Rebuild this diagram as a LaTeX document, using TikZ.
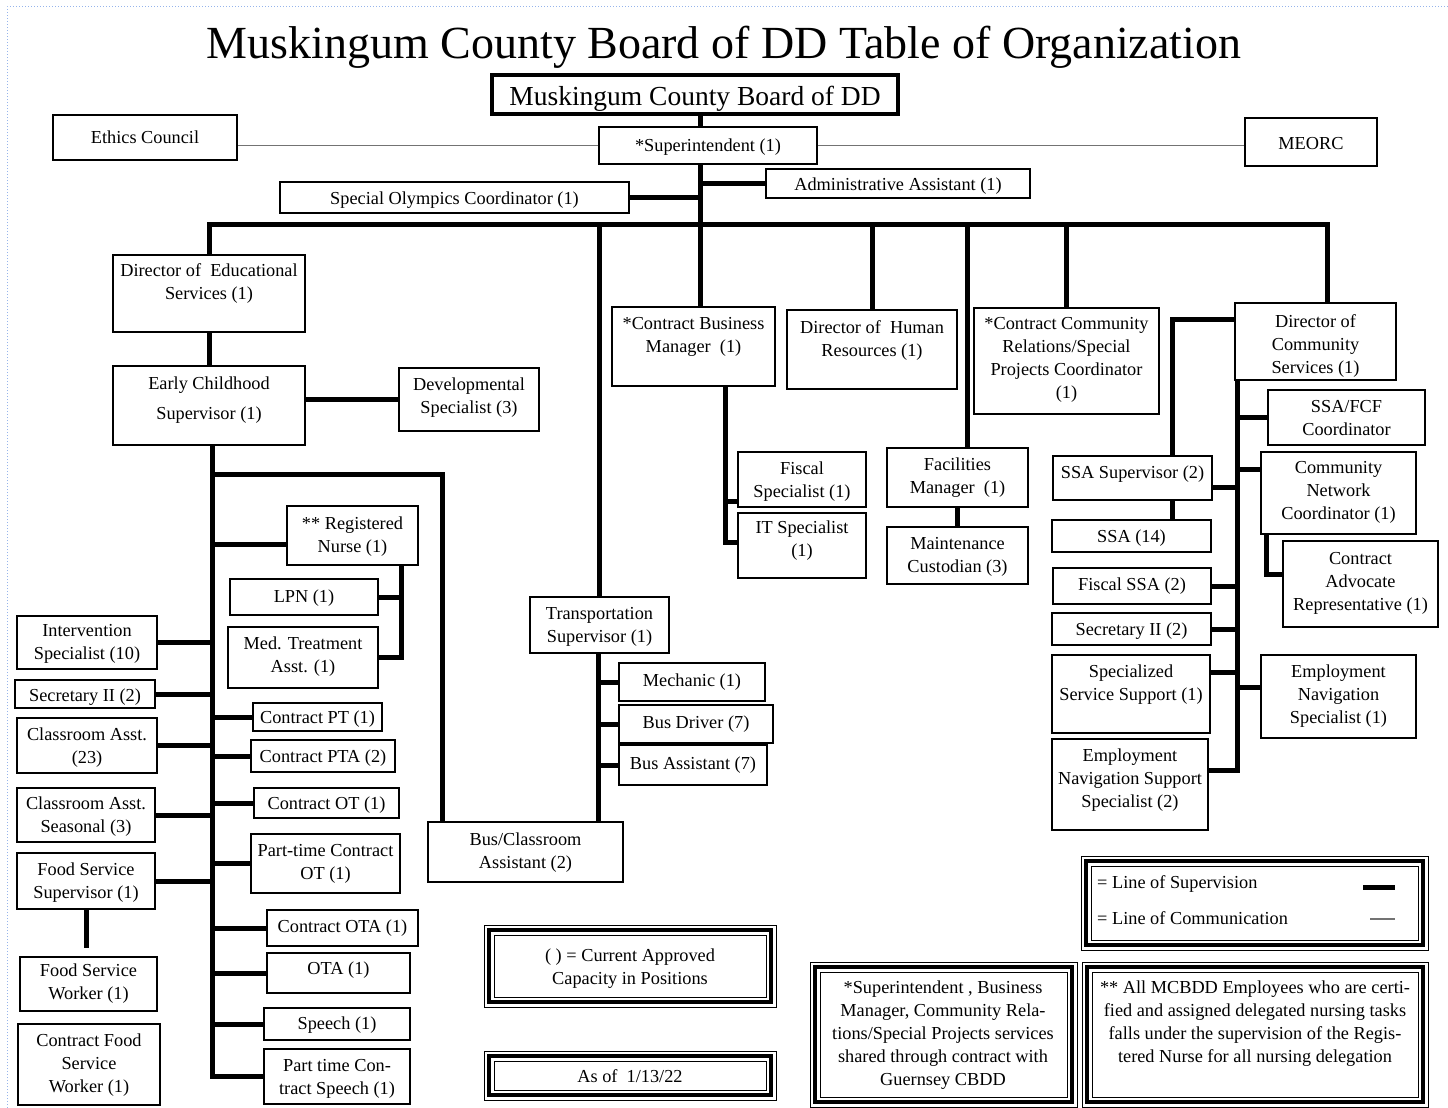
\documentclass[tikz,border=0pt]{standalone}
\usepackage{fontspec}
\setmainfont{Liberation Serif}
\usetikzlibrary{fit,calc}
\definecolor{selblue}{RGB}{150,180,235}
\tikzset{
  bxs/.style={draw, line width=1.3pt, inner sep=0pt},
  txt/.style={inner sep=0pt, align=center, font=\fontsize{18.3}{23}\selectfont},
  svl/.style={line width=5pt},
  cml/.style={line width=1.6pt, draw=black!55},
}
\newcommand\obox[7]{%
  \node[bxs, fit={(#2,#3)(#4,#5)}] (#1) {};
  \node[txt, anchor=north] (#1t) at ({(#2+#4)/2},{#6-6}) {#7};}
\newcommand\tbox[5]{%
  \draw[line width=1pt] (#2,#3) rectangle (#4,#5);
  \node[draw, line width=4pt, inner sep=0pt, fit={({#2+4.7},{#3+4.7})({#4-4.7},{#5-4.7})}] (#1) {};
  \draw[line width=1pt] ({#2+10},{#3+10}) rectangle ({#4-10},{#5-10});}
\begin{document}
\begin{tikzpicture}[x=1pt,y=-1pt]
\useasboundingbox (0,0) rectangle (1448,1108);
\draw[selblue, dotted, line width=1pt] (7,1108) -- (7,7) -- (1448,7);

% title and board
\node[font=\fontsize{46}{50}\selectfont, inner sep=0pt, anchor=base] (title) at (724,59) {Muskingum County Board of DD Table of Organization};
\node[draw, line width=3.5pt, inner sep=0pt, fit={(492,75)(898,114)}] (board) {};
\node[font=\fontsize{27.5}{30}\selectfont, inner sep=0pt] (boardt) at (695,99) {Muskingum County Board of DD};

% boxes
\obox{ethics}{53}{115}{237}{160}{137}{Ethics Council}
\obox{sup}{599}{127}{817}{164}{145}{*Superintendent (1)}
\obox{meorc}{1245}{118}{1377}{166}{143}{MEORC}
\obox{admin}{766}{169}{1030}{198}{184}{Administrative Assistant (1)}
\obox{so}{280}{182}{629}{213}{198}{Special Olympics Coordinator (1)}
\obox{direds}{113}{255}{305}{332}{269}{Director of~ Educational\\Services (1)}
\obox{ec}{113}{366}{305}{445}{383}{Early Childhood\\[7pt]Supervisor (1)}
\obox{dev}{399}{368}{539}{431}{384}{Developmental\\Specialist (3)}
\obox{rn}{287}{506}{418}{565}{523}{** Registered\\Nurse (1)}
\obox{lpn}{230}{579}{378}{615}{596}{LPN (1)}
\obox{med}{228}{627}{378}{688}{643}{Med. Treatment\\Asst. (1)}
\obox{isp}{17}{616}{157}{669}{630}{Intervention\\Specialist (10)}
\obox{secl}{15}{680}{155}{708}{695}{Secretary II (2)}
\obox{ca}{17}{718}{157}{773}{734}{Classroom Asst.\\(23)}
\obox{cas}{17}{788}{155}{842}{803}{Classroom Asst.\\Seasonal (3)}
\obox{fss}{17}{853}{155}{909}{869}{Food Service\\Supervisor (1)}
\obox{fsw}{20}{957}{157}{1011}{970}{Food Service\\Worker (1)}
\obox{cfsw}{18}{1024}{160}{1105}{1040}{Contract Food\\Service\\Worker (1)}
\obox{cpt}{253}{703}{382}{731}{717}{Contract PT (1)}
\obox{cpta}{251}{740}{395}{772}{756}{Contract PTA (2)}
\obox{cot}{254}{788}{399}{818}{803}{Contract OT (1)}
\obox{ptcot}{251}{834}{400}{893}{850}{Part-time Contract\\OT (1)}
\obox{cota}{267}{910}{418}{946}{926}{Contract OTA (1)}
\obox{ota}{267}{953}{410}{993}{968}{OTA (1)}
\obox{sp}{264}{1008}{410}{1040}{1023}{Speech (1)}
\obox{ptcs}{264}{1049}{410}{1104}{1065}{Part time Con-\\tract Speech (1)}
\obox{trans}{530}{597}{669}{653}{613}{Transportation\\Supervisor (1)}
\obox{mech}{619}{663}{765}{701}{680}{Mechanic (1)}
\obox{bd}{619}{705}{773}{743}{722}{Bus Driver (7)}
\obox{ba}{619}{745}{767}{785}{763}{Bus Assistant (7)}
\obox{bca}{428}{822}{623}{882}{839}{Bus/Classroom\\Assistant (2)}
\obox{cbm}{612}{307}{775}{386}{323}{*Contract Business\\Manager~ (1)}
\obox{hr}{787}{310}{957}{389}{326}{Director of~ Human\\Resources (1)}
\obox{fis}{738}{452}{866}{507}{468}{Fiscal\\Specialist (1)}
\obox{it}{738}{513}{866}{578}{527}{IT Specialist\\(1)}
\obox{fac}{887}{448}{1028}{507}{464}{Facilities\\Manager~ (1)}
\obox{mc}{887}{527}{1028}{584}{543}{Maintenance\\Custodian (3)}
\obox{ccr}{974}{308}{1159}{414}{323}{*Contract Community\\Relations/Special\\Projects Coordinator\\(1)}
\obox{dcs}{1235}{303}{1396}{380}{320}{Director of\\Community\\Services (1)}
\obox{fcf}{1268}{390}{1425}{445}{406}{SSA/FCF\\Coordinator}
\obox{cnc}{1261}{452}{1416}{534}{467}{Community\\Network\\Coordinator (1)}
\obox{car}{1283}{541}{1438}{627}{558}{Contract\\Advocate\\Representative (1)}
\obox{ens}{1261}{655}{1416}{738}{671}{Employment\\Navigation\\Specialist (1)}
\obox{ssas}{1053}{456}{1212}{500}{472}{SSA Supervisor (2)}
\obox{ssa}{1052}{520}{1211}{552}{536}{SSA (14)}
\obox{fssa}{1053}{568}{1211}{604}{584}{Fiscal SSA (2)}
\obox{secr}{1052}{613}{1211}{645}{629}{Secretary II (2)}
\obox{sss}{1052}{655}{1210}{733}{671}{Specialized\\Service Support (1)}
\obox{enss}{1052}{739}{1208}{830}{755}{Employment\\Navigation Support\\Specialist (2)}

% note boxes
\tbox{leg}{1081}{856}{1428}{950}
\node[txt, anchor=west] (leg1) at (1097,884) {= Line of Supervision};
\node[txt, anchor=west] (leg2) at (1097,918) {= Line of Communication};
\coordinate (ls1) at (1363,887); \coordinate (ls2) at (1395,887);
\coordinate (lc1) at (1370,919); \coordinate (lc2) at (1395,919);
\draw[svl] (ls1) -- (ls2);
\draw[cml] (lc1) -- (lc2);

\tbox{cap}{484}{925}{776}{1007}
\node[txt, anchor=north] (capt) at (630,949) {( ) = Current Approved\\Capacity in Positions};
\tbox{asof}{484}{1051}{776}{1100}
\node[txt, anchor=north] (asoft) at (630,1069) {As of~ 1/13/22};
\tbox{snote}{810}{962}{1077}{1107}
\node[txt, anchor=north] (snotet) at (943,981) {*Superintendent , Business\\Manager, Community Rela-\\tions/Special Projects services\\shared through contract with\\Guernsey CBDD};
\tbox{nnote}{1082}{962}{1428}{1107}
\node[txt, anchor=north] (nnotet) at (1255,981) {** All MCBDD Employees who are certi-\\fied and assigned delegated nursing tasks\\falls under the supervision of the Regis-\\tered Nurse for all nursing delegation};

% connectors
\coordinate (tr) at (700,0);
\draw[svl] (board.south -| tr) -- (sup.north -| tr);
\draw[svl] (sup.south -| tr) -- (cbm.north -| tr);
\draw[cml] (sup.west) -- (sup.west -| ethics.east);
\draw[cml] (sup.east) -- (sup.east -| meorc.west);
\draw[svl] (admin.west) -- (admin.west -| tr);
\draw[svl] (so.east) -- (so.east -| tr);
\coordinate (barL) at (209,224); \coordinate (barR) at (1327,224);
\draw[svl] (direds.north) -- (direds.north |- barL) -- (barR) -- (barR |- dcs.north);
\draw[svl] (trans.north) -- (trans.north |- barL);
\draw[svl] (hr.north) -- (hr.north |- barL);
\coordinate (fx) at (967,0);
\draw[svl] (fac.north -| fx) -- (barL -| fx);
\draw[svl] (ccr.north) -- (ccr.north |- barL);

\draw[svl] (direds.south) -- (ec.north);
\draw[svl] (dev.west) -- (dev.west -| ec.east);
\coordinate (vx) at (212,0);
\draw[svl] (ec.south -| vx) -- (ptcs.west -| vx) -- (ptcs.west);
\coordinate (bcj) at (442,474);
\draw[svl] (bcj -| vx) -- (bcj) -- (bcj |- bca.north);
\coordinate (rnJ) at ($(rn.south west)+(0,-21)$);
\draw[svl] (rnJ) -- (rnJ -| vx);
\foreach \n in {isp,secl,ca,cas,fss}{\draw[svl] (\n.east) -- (\n.east -| vx);}
\foreach \n in {cpt,cpta,cot,ptcot,cota,ota,sp}{\draw[svl] (\n.west) -- (\n.west -| vx);}
\draw[svl, shorten >=8pt] (fss.south) -- (fss.south |- fsw.north);
\coordinate (rx) at (401,0);
\draw[svl] (rn.south -| rx) -- (med.east -| rx) -- (med.east);
\draw[svl] (lpn.east) -- (lpn.east -| rx);

\coordinate (tx) at (598,0);
\draw[svl] (trans.south -| tx) -- (bca.north -| tx);
\foreach \n in {mech,bd,ba}{\draw[svl] (\n.west) -- (\n.west -| tx);}

\coordinate (cx) at (725,0);
\coordinate (fisJ) at ($(fis.south west)+(0,-6)$);
\coordinate (itJ) at ($(it.north west)+(0,30)$);
\draw[svl] (cbm.south -| cx) -- (itJ -| cx) -- (itJ);
\draw[svl] (fisJ) -- (fisJ -| cx);
\draw[svl] (fac.south) -- (mc.north);

\coordinate (sx) at (1172,0);
\coordinate (dcsJ) at ($(dcs.north west)+(0,17)$);
\draw[svl] (dcsJ) -- (dcsJ -| sx) -- (ssas.north -| sx);
\draw[svl] (ssas.south -| sx) -- (ssa.north -| sx);
\coordinate (dx) at (1237,0);
\coordinate (enssJ) at ($(enss.north east)+(0,32)$);
\draw[svl] (dcs.south -| dx) -- (enssJ -| dx) -- (enssJ);
\draw[svl] (fcf.west) -- (fcf.west -| dx);
\coordinate (cncJ) at ($(cnc.north west)+(0,18)$);
\draw[svl] (cncJ) -- (cncJ -| dx);
\coordinate (ssasJ) at ($(ssas.south east)+(0,-13)$);
\draw[svl] (ssasJ) -- (ssasJ -| dx);
\draw[svl] (fssa.east) -- (fssa.east -| dx);
\draw[svl] (secr.east) -- (secr.east -| dx);
\coordinate (sssJ) at ($(sss.north east)+(0,18)$);
\draw[svl] (sssJ) -- (sssJ -| dx);
\coordinate (ensJ) at ($(ens.north west)+(0,33)$);
\draw[svl] (ensJ) -- (ensJ -| dx);
\coordinate (cax) at (1266,0);
\coordinate (carJ) at ($(car.north west)+(0,34)$);
\draw[svl] (cnc.south -| cax) -- (carJ -| cax) -- (carJ);
\end{tikzpicture}
\end{document}
